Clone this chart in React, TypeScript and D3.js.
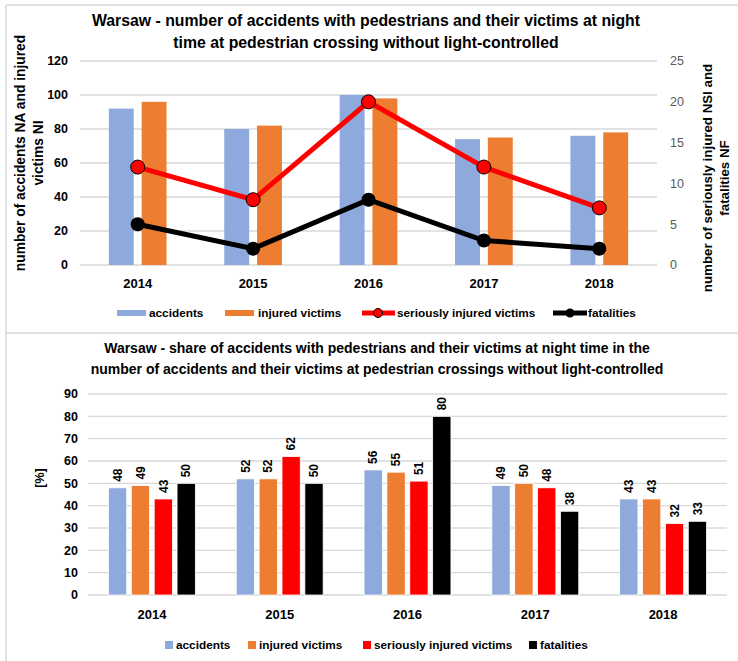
import React from 'react';
import * as d3 from 'd3';

const years = ['2014', '2015', '2016', '2017', '2018'];

// top chart: counts
const accidents = [92, 80, 100, 74, 76];
const injuredVictims = [96, 82, 98, 75, 78];
const seriouslyInjured = [12, 8, 20, 12, 7];
const fatalities = [5, 2, 8, 3, 2];

// bottom chart: shares in %
const shareAccidents = [48, 52, 56, 49, 43];
const shareInjured = [49, 52, 55, 50, 43];
const shareSerious = [43, 62, 51, 48, 32];
const shareFatalities = [50, 50, 80, 37.5, 33];

const leftTicks = [0, 20, 40, 60, 80, 100, 120];
const rightTicks = [0, 5, 10, 15, 20, 25];
const shareTicks = [0, 10, 20, 30, 40, 50, 60, 70, 80, 90];

const BLUE = '#8EA9DB';
const ORANGE = '#ED7D31';
const RED = '#FF0000';
const BLACK = '#000000';
const GRID = '#D9D9D9';

const SANS = '"Liberation Sans", Arial, sans-serif';

const TopChart = () => {
  const x0 = d3.scaleBand<string>().domain(years).range([80, 657]).paddingInner(0.5).paddingOuter(0.25);
  const x1 = d3.scaleBand<string>().domain(['a', 'i']).range([0, x0.bandwidth()]).paddingInner(0.24);
  const yL = d3.scaleLinear().domain([0, 120]).range([265, 61]);
  const yR = d3.scaleLinear().domain([0, 25]).range([265, 61]);
  const cx = (y: string) => (x0(y) ?? 0) + x0.bandwidth() / 2;

  const line = d3.line<number>().x((_, i) => cx(years[i])).y(d => yR(d));
  const barSeries = [
    { key: 'a', values: accidents, color: BLUE },
    { key: 'i', values: injuredVictims, color: ORANGE },
  ];

  return (
    <g>
      <text x={366} y={26} textAnchor="middle" fontFamily={SANS} fontWeight="bold" fontSize={15.8}>
        Warsaw - number of accidents with pedestrians and their victims at night
      </text>
      <text x={366} y={48} textAnchor="middle" fontFamily={SANS} fontWeight="bold" fontSize={15.8}>
        time at pedestrian crossing without light-controlled
      </text>
      {leftTicks.map(t => (
        <g key={t}>
          <line x1={80} x2={657} y1={yL(t)} y2={yL(t)} stroke={GRID} strokeWidth={1.3} />
          <text x={68} y={yL(t)} dy="0.35em" textAnchor="end" fontFamily={SANS} fontWeight="bold" fontSize={12.5}>{t}</text>
        </g>
      ))}
      {rightTicks.map(t => (
        <text key={t} x={670} y={yR(t)} dy="0.35em" fontFamily={SANS} fontSize={12.5} fill="#595959">{t}</text>
      ))}
      <g transform="translate(25,153) rotate(-90)" fontFamily={SANS} fontWeight="bold" fontSize={13.8} textAnchor="middle">
        <text x={0} y={0}>number of accidents NA and injured</text>
        <text x={0} y={18}>victims NI</text>
      </g>
      <g transform="translate(712,178) rotate(-90)" fontFamily={SANS} fontWeight="bold" fontSize={13.3} textAnchor="middle">
        <text x={0} y={0}>number of seriously injured NSI and</text>
        <text x={0} y={17}>fatalities NF</text>
      </g>
      {barSeries.map(s => (
        <g key={s.key} fill={s.color}>
          {s.values.map((v, i) => (
            <rect key={i} x={(x0(years[i]) ?? 0) + (x1(s.key) ?? 0)} width={x1.bandwidth()} y={yL(v)} height={yL(0) - yL(v)} />
          ))}
        </g>
      ))}
      <path d={line(seriouslyInjured) ?? ''} fill="none" stroke={RED} strokeWidth={5} />
      {seriouslyInjured.map((v, i) => (
        <circle key={i} cx={cx(years[i])} cy={yR(v)} r={7} fill={RED} stroke={BLACK} strokeWidth={1} />
      ))}
      <path d={line(fatalities) ?? ''} fill="none" stroke={BLACK} strokeWidth={5} />
      {fatalities.map((v, i) => (
        <circle key={i} cx={cx(years[i])} cy={yR(v)} r={7} fill={BLACK} />
      ))}
      {years.map(y => (
        <text key={y} x={cx(y)} y={283} dy="0.35em" textAnchor="middle" fontFamily={SANS} fontWeight="bold" fontSize={13}>{y}</text>
      ))}
      {/* legend */}
      <g fontFamily={SANS} fontWeight="bold" fontSize={11.8}>
        <rect x={117} y={310} width={29} height={6} fill={BLUE} />
        <text x={149} y={313} dy="0.35em">accidents</text>
        <rect x={225} y={310} width={29} height={6} fill={ORANGE} />
        <text x={258} y={313} dy="0.35em">injured victims</text>
        <line x1={362} x2={395} y1={313} y2={313} stroke={RED} strokeWidth={5} />
        <circle cx={378} cy={313} r={4.5} fill={RED} stroke={BLACK} />
        <text x={397} y={313} dy="0.35em">seriously injured victims</text>
        <line x1={553} x2={587} y1={313} y2={313} stroke={BLACK} strokeWidth={5} />
        <circle cx={570} cy={313} r={4.5} fill={BLACK} />
        <text x={588} y={313} dy="0.35em">fatalities</text>
      </g>
    </g>
  );
};

const BottomChart = () => {
  const series = [
    { key: 'accidents', values: shareAccidents, color: BLUE },
    { key: 'injured victims', values: shareInjured, color: ORANGE },
    { key: 'seriously injured victims', values: shareSerious, color: RED },
    { key: 'fatalities', values: shareFatalities, color: BLACK },
  ];
  const x0 = d3.scaleBand<string>().domain(years).range([88, 727]).paddingInner(0.32).paddingOuter(0.16);
  const x1 = d3.scaleBand<string>().domain(series.map(s => s.key)).range([0, x0.bandwidth()]).paddingInner(0.2);
  const y = d3.scaleLinear().domain([0, 90]).range([595, 394]);
  const fmt = d3.format('.0f');
  const legendX = [165, 248, 363, 529];

  return (
    <g>
      <text x={377} y={353} textAnchor="middle" fontFamily={SANS} fontWeight="bold" fontSize={14}>
        Warsaw - share of accidents with pedestrians and their victims at night time in the
      </text>
      <text x={377} y={374} textAnchor="middle" fontFamily={SANS} fontWeight="bold" fontSize={14}>
        number of accidents and their victims at pedestrian crossings without light-controlled
      </text>
      {shareTicks.map(t => (
        <g key={t}>
          <line x1={88} x2={727} y1={y(t)} y2={y(t)} stroke={GRID} strokeWidth={1.3} />
          <text x={78} y={y(t)} dy="0.35em" textAnchor="end" fontFamily={SANS} fontWeight="bold" fontSize={12.5}>{t}</text>
        </g>
      ))}
      <text transform="translate(44,478) rotate(-90)" textAnchor="middle" fontFamily={SANS} fontWeight="bold" fontSize={12.5}>[%]</text>
      {series.map(s => (
        <g key={s.key}>
          {s.values.map((v, i) => {
            const bx = (x0(years[i]) ?? 0) + (x1(s.key) ?? 0);
            return (
              <g key={i}>
                <rect x={bx} width={x1.bandwidth()} y={y(v)} height={y(0) - y(v)} fill={s.color} stroke="#fff" strokeWidth={0.8} />
                <text transform={`translate(${bx + x1.bandwidth() / 2},${y(v) - 6}) rotate(-90)`} dy="0.35em"
                  fontFamily={SANS} fontWeight="bold" fontSize={12}>{fmt(v)}</text>
              </g>
            );
          })}
        </g>
      ))}
      {years.map(yr => (
        <text key={yr} x={(x0(yr) ?? 0) + x0.bandwidth() / 2} y={614} dy="0.35em" textAnchor="middle" fontFamily={SANS} fontWeight="bold" fontSize={13}>{yr}</text>
      ))}
      <g fontFamily={SANS} fontWeight="bold" fontSize={11.8}>
        {series.map((s, i) => (
          <g key={s.key}>
            <rect x={legendX[i]} y={641} width={8} height={8} fill={s.color} />
            <text x={legendX[i] + 11} y={645} dy="0.35em">{s.key}</text>
          </g>
        ))}
      </g>
    </g>
  );
};

export default function App() {
  return (
    <svg width={738} height={661} style={{ position: 'absolute', left: 0, top: 0, background: '#fff' }}>
      <rect x={0} y={0} width={738} height={661} fill="#fff" />
      <line x1={6} x2={738} y1={5} y2={5} stroke={GRID} strokeWidth={1.5} />
      <line x1={6} x2={6} y1={5} y2={661} stroke={GRID} strokeWidth={1.5} />
      <line x1={6} x2={738} y1={333} y2={333} stroke={GRID} strokeWidth={1.5} />
      <TopChart />
      <BottomChart />
    </svg>
  );
}
